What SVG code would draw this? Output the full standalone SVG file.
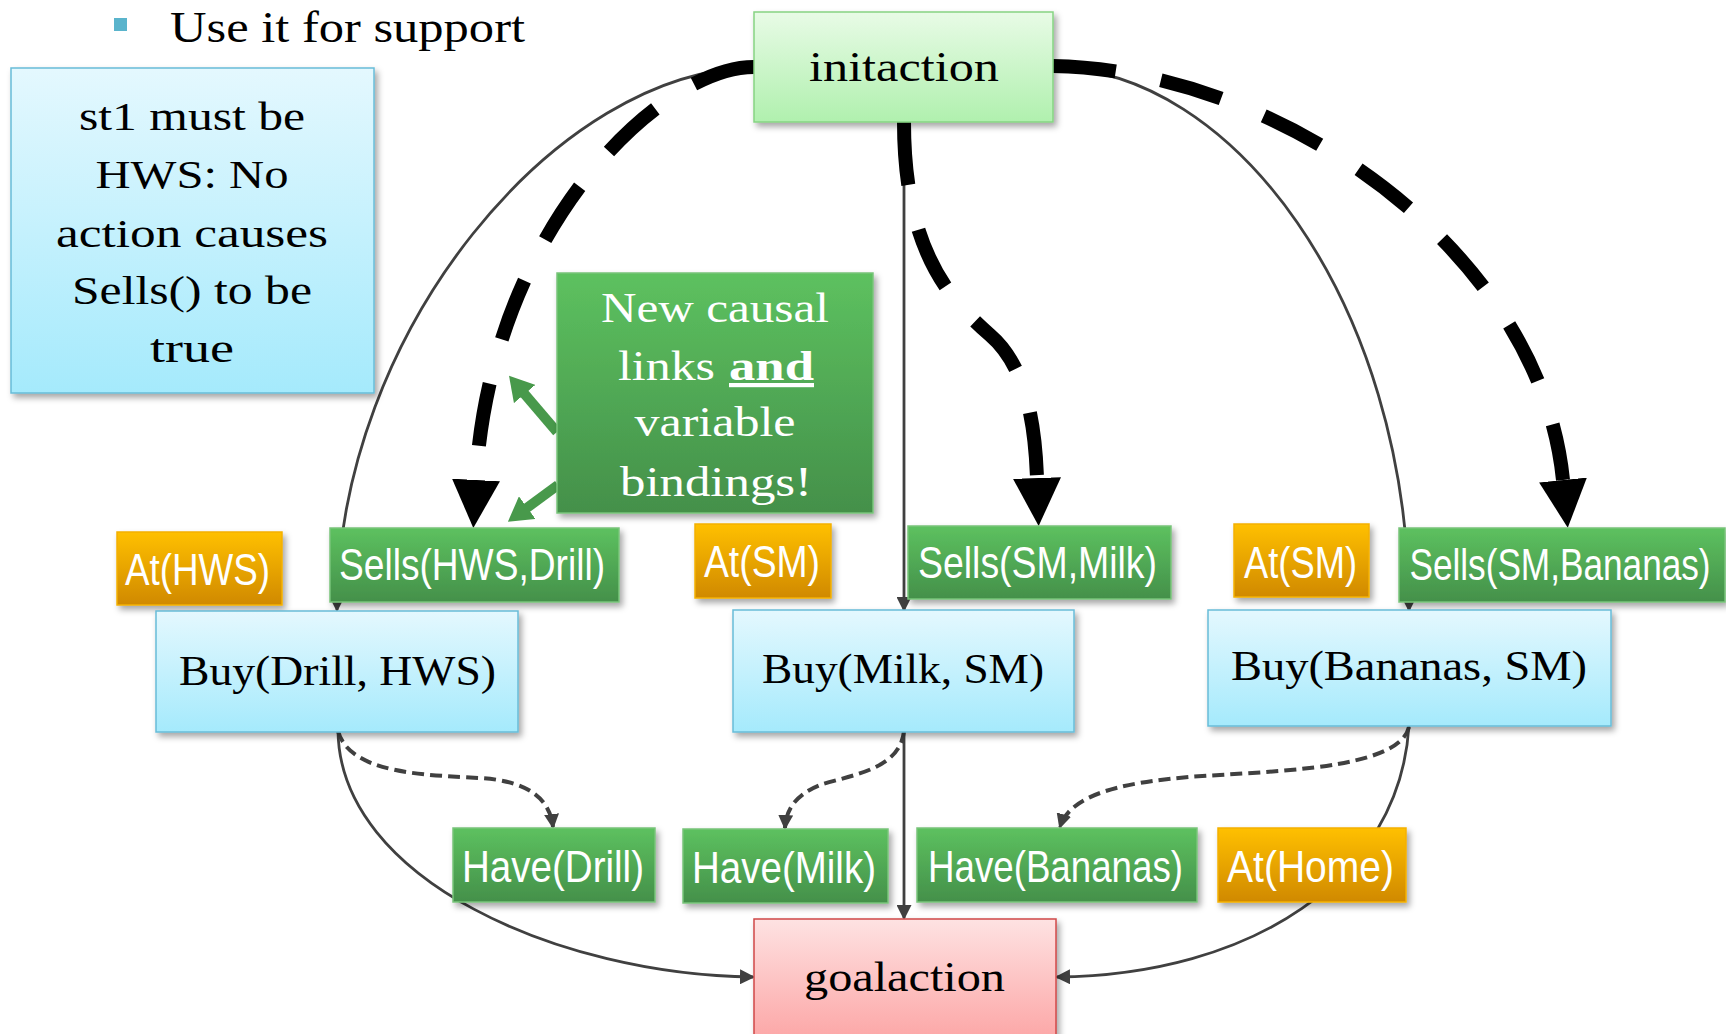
<svg xmlns="http://www.w3.org/2000/svg" width="1726" height="1034" viewBox="0 0 1726 1034">
  <defs>
    <linearGradient id="gBlue" x1="0" y1="0" x2="0" y2="1">
      <stop offset="0" stop-color="#e4f8fe"/>
      <stop offset="1" stop-color="#a5eafc"/>
    </linearGradient>
    <linearGradient id="gInit" x1="0" y1="0" x2="0" y2="1">
      <stop offset="0" stop-color="#e8fbe6"/>
      <stop offset="1" stop-color="#b0f0ae"/>
    </linearGradient>
    <linearGradient id="gGoal" x1="0" y1="0" x2="0" y2="1">
      <stop offset="0" stop-color="#fee2e2"/>
      <stop offset="1" stop-color="#fca4a4"/>
    </linearGradient>
    <linearGradient id="gOrange" x1="0" y1="0" x2="0" y2="1">
      <stop offset="0" stop-color="#ffc000"/>
      <stop offset="1" stop-color="#d08900"/>
    </linearGradient>
    <linearGradient id="gGreen" x1="0" y1="0" x2="0" y2="1">
      <stop offset="0" stop-color="#5dc15f"/>
      <stop offset="1" stop-color="#44904a"/>
    </linearGradient>
    <filter id="shadow" x="-10%" y="-10%" width="125%" height="130%">
      <feDropShadow dx="3" dy="4" stdDeviation="3" flood-color="#000" flood-opacity="0.35"/>
    </filter>
    <marker id="bigHead" markerUnits="userSpaceOnUse" viewBox="0 0 48 48" markerWidth="48" markerHeight="48" refX="0" refY="24" orient="auto">
      <path d="M0,0 L48,24 L0,48 Z" fill="#000"/>
    </marker>
    <marker id="smallHead" markerUnits="userSpaceOnUse" viewBox="0 0 15 15" markerWidth="15" markerHeight="15" refX="13" refY="7.5" orient="auto">
      <path d="M0,0 L15,7.5 L0,15 Z" fill="#404040"/>
    </marker>
    <marker id="greenHead" markerUnits="userSpaceOnUse" viewBox="0 0 24 28" markerWidth="24" markerHeight="28" refX="4" refY="14" orient="auto">
      <path d="M0,0 L24,14 L0,28 Z" fill="#48994b"/>
    </marker>
    <style>
      .serif { font-family: "Liberation Serif", "Times New Roman", serif; fill: #000; }
      .cond { font-family: "Liberation Sans Narrow", "Liberation Sans", Arial, sans-serif; fill: #fff; font-size: 44px; }
      .blue { fill: url(#gBlue); stroke: #68bcd8; stroke-width: 1.5; filter: url(#shadow); }
      .init { fill: url(#gInit); stroke: #86d483; stroke-width: 1.5; filter: url(#shadow); }
      .goal { fill: url(#gGoal); stroke: #d04848; stroke-width: 1.5; filter: url(#shadow); }
      .orange { fill: url(#gOrange); stroke: #f4b000; stroke-width: 1.5; filter: url(#shadow); }
      .green { fill: url(#gGreen); stroke: #78c47a; stroke-width: 1.5; filter: url(#shadow); }
      .order { fill: none; stroke: #404040; stroke-width: 2.8; marker-end: url(#smallHead); }
      .effect { fill: none; stroke: #404040; stroke-width: 4; stroke-dasharray: 12 6; marker-end: url(#smallHead); }
      .causal { fill: none; stroke: #000; stroke-width: 14; stroke-dasharray: 63 46; marker-end: url(#bigHead); }
      .pointer { fill: none; stroke: #48994b; stroke-width: 10; marker-end: url(#greenHead); }
    </style>
  </defs>

  <rect x="0" y="0" width="1726" height="1034" fill="#fff"/>

  <!-- bullet line -->
  <g id="bullet">
    <rect x="114" y="18" width="13" height="13" fill="#5ab4cc"/>
    <text class="serif" x="170" y="42" font-size="44" textLength="355" lengthAdjust="spacingAndGlyphs">Use it for support</text>
  </g>

  <!-- connectors -->
  <g id="connectors">
    <!-- ordering constraints -->
    <path class="order" d="M754,68 C560,68 337,330 337,610"/>
    <path class="order" d="M1053,68 C1230,68 1409,300 1409,610"/>
    <path class="order" d="M904,122 L904,610"/>
    <path class="order" d="M338,731 C340,880 560,975 753,977"/>
    <path class="order" d="M904,731 L904,918"/>
    <path class="order" d="M1409,725 C1400,880 1250,975 1057,977"/>
    <!-- effects -->
    <path class="effect" d="M338,731 C350,775 430,775 480,778 C530,781 550,800 553,827"/>
    <path class="effect" d="M904,731 C900,770 850,775 820,785 C795,795 786,810 785,828"/>
    <path class="effect" d="M1409,727 C1400,765 1300,770 1220,775 C1120,780 1070,795 1060,827"/>
    <!-- causal links -->
    <path class="causal" d="M754,67 C660,67 490,230 476,480"/>
    <path class="causal" d="M904,122 C904,250 950,300 990,335 C1025,365 1035,420 1037,478"/>
    <path class="causal" d="M1053,66 C1280,70 1540,250 1563,480"/>
  </g>

  <!-- note -->
  <g id="note">
    <rect class="blue" x="11" y="68" width="363" height="325"/>
    <g class="serif" font-size="40" text-anchor="middle">
      <text x="192" y="130" textLength="226" lengthAdjust="spacingAndGlyphs">st1 must be</text>
      <text x="192" y="188" textLength="193" lengthAdjust="spacingAndGlyphs">HWS: No</text>
      <text x="192" y="247" textLength="272" lengthAdjust="spacingAndGlyphs">action causes</text>
      <text x="192" y="304" textLength="240" lengthAdjust="spacingAndGlyphs">Sells() to be</text>
      <text x="192" y="362" textLength="84" lengthAdjust="spacingAndGlyphs">true</text>
    </g>
  </g>

  <g id="initaction">
    <rect class="init" x="754" y="12" width="299" height="110"/>
    <text class="serif" x="904" y="81" font-size="42" text-anchor="middle" textLength="190" lengthAdjust="spacingAndGlyphs">initaction</text>
  </g>

  <g id="callout">
    <path class="pointer" d="M557,432 L522,391"/>
    <path class="pointer" d="M558,485 L524,510"/>
    <rect class="green" x="557" y="273" width="316" height="240"/>
    <g font-family="Liberation Serif, Times New Roman, serif" font-size="42" fill="#fff">
      <text x="715" y="322" text-anchor="middle" textLength="228" lengthAdjust="spacingAndGlyphs">New causal</text>
      <text x="618" y="380" textLength="97" lengthAdjust="spacingAndGlyphs">links</text>
      <text x="729" y="380" font-weight="bold" text-decoration="underline" textLength="85" lengthAdjust="spacingAndGlyphs">and</text>
      <text x="715" y="436" text-anchor="middle" textLength="161" lengthAdjust="spacingAndGlyphs">variable</text>
      <text x="716" y="496" text-anchor="middle" textLength="192" lengthAdjust="spacingAndGlyphs">bindings!</text>
    </g>
  </g>

  <g id="at-hws">
    <rect class="orange" x="117" y="532" width="165" height="73"/>
    <text class="cond" x="197.5" y="585" text-anchor="middle" textLength="145" lengthAdjust="spacingAndGlyphs">At(HWS)</text>
  </g>
  <g id="sells-hws-drill">
    <rect class="green" x="330" y="528" width="289" height="74"/>
    <text class="cond" x="472" y="580" text-anchor="middle" textLength="266" lengthAdjust="spacingAndGlyphs">Sells(HWS,Drill)</text>
  </g>
  <g id="at-sm-1">
    <rect class="orange" x="695" y="524" width="136" height="74"/>
    <text class="cond" x="762" y="577" text-anchor="middle" textLength="116" lengthAdjust="spacingAndGlyphs">At(SM)</text>
  </g>
  <g id="sells-sm-milk">
    <rect class="green" x="908" y="526" width="263" height="73"/>
    <text class="cond" x="1037.5" y="578" text-anchor="middle" textLength="239" lengthAdjust="spacingAndGlyphs">Sells(SM,Milk)</text>
  </g>
  <g id="at-sm-2">
    <rect class="orange" x="1234" y="524" width="135" height="73"/>
    <text class="cond" x="1300.5" y="578" text-anchor="middle" textLength="113" lengthAdjust="spacingAndGlyphs">At(SM)</text>
  </g>
  <g id="sells-sm-bananas">
    <rect class="green" x="1399" y="528" width="326" height="74"/>
    <text class="cond" transform="translate(1560,580) scale(0.8,1)" text-anchor="middle">Sells(SM,Bananas)</text>
  </g>

  <g id="buy-drill">
    <rect class="blue" x="156" y="611" width="362" height="121"/>
    <text class="serif" x="337.5" y="685" font-size="42" text-anchor="middle" textLength="317" lengthAdjust="spacingAndGlyphs">Buy(Drill, HWS)</text>
  </g>
  <g id="buy-milk">
    <rect class="blue" x="733" y="610" width="341" height="122"/>
    <text class="serif" x="903" y="683" font-size="42" text-anchor="middle" textLength="282" lengthAdjust="spacingAndGlyphs">Buy(Milk, SM)</text>
  </g>
  <g id="buy-bananas">
    <rect class="blue" x="1208" y="610" width="403" height="116"/>
    <text class="serif" x="1409" y="680" font-size="42" text-anchor="middle" textLength="356" lengthAdjust="spacingAndGlyphs">Buy(Bananas, SM)</text>
  </g>

  <g id="have-drill">
    <rect class="green" x="453" y="828" width="202" height="74"/>
    <text class="cond" x="553" y="882" text-anchor="middle" textLength="182" lengthAdjust="spacingAndGlyphs">Have(Drill)</text>
  </g>
  <g id="have-milk">
    <rect class="green" x="683" y="829" width="205" height="74"/>
    <text class="cond" x="784" y="883" text-anchor="middle" textLength="184" lengthAdjust="spacingAndGlyphs">Have(Milk)</text>
  </g>
  <g id="have-bananas">
    <rect class="green" x="917" y="828" width="280" height="74"/>
    <text class="cond" x="1055.5" y="882" text-anchor="middle" textLength="255" lengthAdjust="spacingAndGlyphs">Have(Bananas)</text>
  </g>
  <g id="at-home">
    <rect class="orange" x="1218" y="828" width="188" height="74"/>
    <text class="cond" x="1310.5" y="882" text-anchor="middle" textLength="167" lengthAdjust="spacingAndGlyphs">At(Home)</text>
  </g>

  <g id="goalaction">
    <rect class="goal" x="754" y="919" width="302" height="125"/>
    <text class="serif" x="904.5" y="991" font-size="42" text-anchor="middle" textLength="201" lengthAdjust="spacingAndGlyphs">goalaction</text>
  </g>
</svg>
